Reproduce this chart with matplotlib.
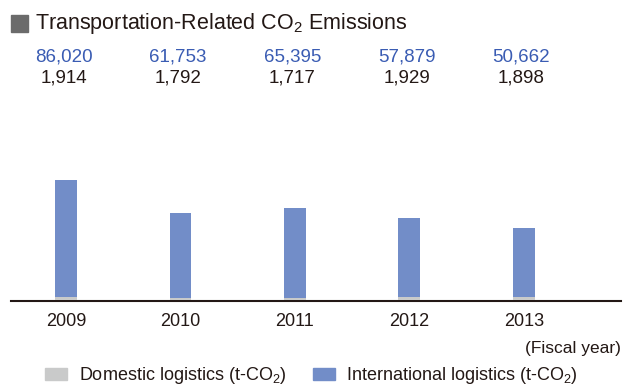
import matplotlib
matplotlib.use("Agg")
import matplotlib.pyplot as plt
from matplotlib.patches import Patch, Rectangle
import matplotlib.transforms as mtransforms

plt.rcParams['font.family'] = ['Liberation Sans', 'DejaVu Sans']
plt.rcParams['mathtext.fontset'] = 'custom'
plt.rcParams['mathtext.rm'] = 'Liberation Sans'
plt.rcParams['mathtext.it'] = 'Liberation Sans'

years = ['2009', '2010', '2011', '2012', '2013']
international = [86020, 61753, 65395, 57879, 50662]
domestic = [1914, 1792, 1717, 1929, 1898]

title = 'Transportation-Related CO$_2$ Emissions'
legend_labels = ['Domestic logistics (t-CO$_2$)', 'International logistics (t-CO$_2$)']
xlabel_note = '(Fiscal year)'

BLUE = '#728dc8'
GREY = '#c9caca'
BLUE_TXT = '#3a5cb3'
BLACK = '#231815'

W, H = 626, 387
fig = plt.figure(figsize=(W/100, H/100), dpi=100)
ax = fig.add_axes([11/W, 86/H, 610/W, 200/H])

x = list(range(len(years)))
ax.bar(x, domestic, width=0.19, color=GREY, label=legend_labels[0], zorder=3)
ax.bar(x, international, width=0.19, bottom=domestic, color=BLUE, label=legend_labels[1], zorder=3)

ax.set_xlim(-0.48, 4.85)
ax.set_ylim(-700, 145300)
for s in ['top', 'right', 'left']:
    ax.spines[s].set_visible(False)
ax.spines['bottom'].set_color(BLACK)
ax.spines['bottom'].set_linewidth(1.5)
ax.spines['bottom'].set_zorder(2)
ax.set_yticks([])
ax.set_xticks(x)
ax.set_xticklabels(years, fontsize=13, color=BLACK)
ax.tick_params(axis='x', length=0, pad=9)

trans = mtransforms.blended_transform_factory(ax.transData, fig.transFigure)
for xi, vi, vd in zip(x, international, domestic):
    ax.text(xi - 0.02, 1 - 57.5/H, f'{vi:,}', transform=trans, ha='center', va='center',
            fontsize=13.5, color=BLUE_TXT)
    ax.text(xi - 0.02, 1 - 78/H, f'{vd:,}', transform=trans, ha='center', va='center',
            fontsize=13.5, color=BLACK)

# title
fig.patches.append(Rectangle((11/W, 1 - 32/H), 17/W, 17/H, transform=fig.transFigure,
                             color='#6b6b6b', figure=fig))
fig.text(35/W, 1 - 23/H, title, fontsize=15.5, color=BLACK, va='center', ha='left')

fig.text(621/W, 1 - 348/H, xlabel_note, fontsize=12.5, color=BLACK, ha='right', va='center')

handles = [Patch(color=GREY, label=legend_labels[0]), Patch(color=BLUE, label=legend_labels[1])]
fig.legend(handles=handles, loc='center left', bbox_to_anchor=(45/W, 1 - 376/H), ncol=2,
           frameon=False, fontsize=13, handlelength=1.22, handleheight=0.67,
           handletextpad=0.65, columnspacing=1.45, labelcolor=BLACK, borderaxespad=0, borderpad=0)

fig.savefig('out.png', dpi=100)
